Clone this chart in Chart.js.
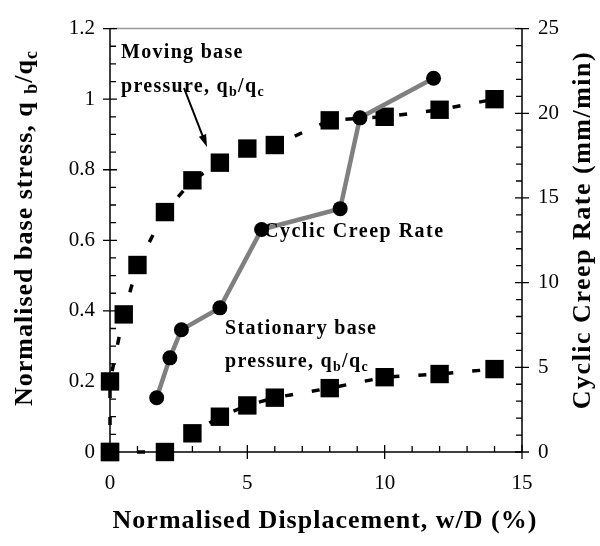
<!DOCTYPE html>
<html>
<head>
<meta charset="utf-8">
<script src="https://cdn.jsdelivr.net/npm/chart.js@4/dist/chart.umd.min.js"></script>
<style>
  html, body { margin: 0; padding: 0; background: #fff; }
  canvas { display: block; }
</style>
</head>
<body>
<canvas id="c" width="600" height="546"></canvas>
<script>
// ---- data ----
const movingX = [0, 0, 0.5, 1, 2, 3, 4, 5, 6, 8, 10, 12, 14];
const movingY = [0, 0.2, 0.39, 0.53, 0.68, 0.77, 0.82, 0.86, 0.87, 0.94, 0.95, 0.97, 1.0];
const stationaryX = [0, 2, 3, 4, 5, 6, 8, 10, 12, 14];
const stationaryY = [0, 0, 0.053, 0.10, 0.132, 0.154, 0.181, 0.212, 0.221, 0.235];
const creepX = [1.7, 2.18, 2.6, 4.0, 5.52, 8.38, 9.1, 11.78];
const creepY = [3.2, 5.56, 7.22, 8.51, 13.14, 14.37, 19.73, 22.07];
const xTicks = [0, 5, 10, 15];
const yTicks = [0, 0.2, 0.4, 0.6, 0.8, 1, 1.2];
const y1Ticks = [0, 5, 10, 15, 20, 25];

const pts = (xs, ys) => xs.map((x, i) => ({ x: x, y: ys[i] }));
const SERIF = '"Liberation Serif", "Times New Roman", serif';

function drawRich(ctx, x, y, parts, size, spacing) {
  let cx = x;
  ctx.letterSpacing = spacing + 'px';
  for (const p of parts) {
    const s = p.sub ? Math.round(size * 0.68) : size;
    ctx.font = 'bold ' + s + 'px ' + SERIF;
    ctx.fillText(p.t, cx, y + (p.sub ? size * 0.2 : 0));
    cx += ctx.measureText(p.t).width;
  }
  return cx - x;
}
function richWidth(ctx, parts, size, spacing) {
  let w = 0;
  ctx.letterSpacing = spacing + 'px';
  for (const p of parts) {
    const s = p.sub ? Math.round(size * 0.68) : size;
    ctx.font = 'bold ' + s + 'px ' + SERIF;
    w += ctx.measureText(p.t).width;
  }
  return w;
}

const decoPlugin = {
  id: 'deco',
  beforeDatasetsDraw(chart) {
    const ctx = chart.ctx;
    const xs = chart.scales.x, ys = chart.scales.y, y1 = chart.scales.y1;
    const L = xs.left, R = xs.right, T = ys.top, B = ys.bottom;
    ctx.save();
    ctx.strokeStyle = '#9a9a9a';
    ctx.lineWidth = 1.5;
    ctx.beginPath(); ctx.moveTo(L, T); ctx.lineTo(R, T); ctx.stroke();
    ctx.strokeStyle = '#000';
    ctx.lineWidth = 1.5;
    ctx.beginPath();
    ctx.moveTo(L, T); ctx.lineTo(L, B); ctx.lineTo(R, B); ctx.lineTo(R, T);
    ctx.stroke();
    ctx.lineWidth = 1.3;
    ctx.beginPath();
    for (let i = 0; i <= 15; i++) {
      const px = xs.getPixelForValue(i);
      if (i % 5 === 0) { ctx.moveTo(px, B - 7); ctx.lineTo(px, B + 7); }
      else { ctx.moveTo(px, B); ctx.lineTo(px, B - 6); }
    }
    for (let i = 0; i <= 24; i++) {
      const py = ys.getPixelForValue(i * 0.05);
      if (i % 4 === 0) { ctx.moveTo(L - 7, py); ctx.lineTo(L + 7, py); }
      else { ctx.moveTo(L, py); ctx.lineTo(L + 6, py); }
    }
    for (let i = 0; i <= 25; i++) {
      const py = y1.getPixelForValue(i);
      if (i % 5 === 0) { ctx.moveTo(R - 7, py); ctx.lineTo(R + 7, py); }
      else { ctx.moveTo(R - 6, py); ctx.lineTo(R, py); }
    }
    ctx.stroke();
    ctx.restore();
  },
  afterDraw(chart) {
    const ctx = chart.ctx;
    ctx.save();
    ctx.fillStyle = '#000';
    ctx.textBaseline = 'alphabetic';
    ctx.textAlign = 'left';
    const qbqc = [{ t: 'pressure, q' }, { t: 'b', sub: true }, { t: '/q' }, { t: 'c', sub: true }];
    drawRich(ctx, 121, 58, [{ t: 'Moving base' }], 20, 1.3);
    drawRich(ctx, 121, 92, qbqc, 20, 1.3);
    drawRich(ctx, 264, 237, [{ t: 'Cyclic Creep Rate' }], 20, 1.5);
    drawRich(ctx, 225, 334, [{ t: 'Stationary base' }], 20, 1.3);
    drawRich(ctx, 225, 367, qbqc, 20, 1.3);
    // arrow
    ctx.strokeStyle = '#000';
    ctx.lineWidth = 2;
    const ax0 = 184, ay0 = 88, ax1 = 207, ay1 = 147;
    const ang = Math.atan2(ay1 - ay0, ax1 - ax0);
    ctx.beginPath(); ctx.moveTo(ax0, ay0);
    ctx.lineTo(ax1 - 8 * Math.cos(ang), ay1 - 8 * Math.sin(ang)); ctx.stroke();
    ctx.beginPath();
    ctx.moveTo(ax1, ay1);
    ctx.lineTo(ax1 - 13 * Math.cos(ang - 0.3), ay1 - 13 * Math.sin(ang - 0.3));
    ctx.lineTo(ax1 - 13 * Math.cos(ang + 0.3), ay1 - 13 * Math.sin(ang + 0.3));
    ctx.closePath(); ctx.fill();

    const bottomParts = [{ t: 'Normalised Displacement, w/D (%)' }];
    let w = richWidth(ctx, bottomParts, 26, 1);
    drawRich(ctx, 325 - w / 2, 528, bottomParts, 26, 1);

    const leftParts = [{ t: 'Normalised base stress, q ' }, { t: 'b', sub: true }, { t: '/q' }, { t: 'c', sub: true }];
    ctx.save();
    ctx.translate(32, 228);
    ctx.rotate(-Math.PI / 2);
    w = richWidth(ctx, leftParts, 26, 1);
    drawRich(ctx, -w / 2, 0, leftParts, 26, 1);
    ctx.restore();

    const rightParts = [{ t: 'Cyclic Creep Rate (mm/min)' }];
    ctx.save();
    ctx.translate(590, 230);
    ctx.rotate(-Math.PI / 2);
    w = richWidth(ctx, rightParts, 26, 1.5);
    drawRich(ctx, -w / 2, 0, rightParts, 26, 1.5);
    ctx.restore();
    ctx.restore();
  }
};

const tickFont = { family: SERIF, size: 21 };

new Chart(document.getElementById('c'), {
  type: 'scatter',
  data: {
    datasets: [
      {
        label: 'Cyclic Creep Rate',
        data: pts(creepX, creepY),
        yAxisID: 'y1',
        clip: false,
        showLine: true,
        borderColor: '#808080',
        borderWidth: 4.5,
        pointStyle: 'circle',
        pointRadius: 7.5,
        pointBackgroundColor: '#000',
        pointBorderColor: '#000',
        pointBorderWidth: 0
      },
      {
        label: 'Moving base pressure',
        data: pts(movingX, movingY),
        yAxisID: 'y',
        clip: false,
        showLine: true,
        borderColor: '#000',
        borderWidth: 3.5,
        borderDash: [8, 19],
        pointStyle: 'rect',
        pointRadius: 13,
        pointBackgroundColor: '#000',
        pointBorderColor: '#000',
        pointBorderWidth: 0
      },
      {
        label: 'Stationary base pressure',
        data: pts(stationaryX, stationaryY),
        yAxisID: 'y',
        clip: false,
        showLine: true,
        borderColor: '#000',
        borderWidth: 3.5,
        borderDash: [8, 19],
        pointStyle: 'rect',
        pointRadius: 13,
        pointBackgroundColor: '#000',
        pointBorderColor: '#000',
        pointBorderWidth: 0
      }
    ]
  },
  options: {
    responsive: false,
    devicePixelRatio: 1,
    animation: false,
    layout: { padding: { top: 20, left: 0, right: 0, bottom: 0 } },
    plugins: { legend: { display: false }, tooltip: { enabled: false } },
    scales: {
      x: {
        type: 'linear', min: 0, max: 15,
        afterBuildTicks: s => { s.ticks = xTicks.map(v => ({ value: v })); },
        ticks: { font: tickFont, color: '#000', padding: 19, maxRotation: 0, callback: v => String(v) },
        grid: { display: false, drawTicks: false },
        border: { display: false },
        afterFit: s => { s.height = 94; }
      },
      y: {
        position: 'left', min: 0, max: 1.2,
        afterBuildTicks: s => { s.ticks = yTicks.map(v => ({ value: v })); },
        ticks: { font: tickFont, color: '#000', padding: 15, callback: v => String(+Number(v).toFixed(1)) },
        grid: { display: false, drawTicks: false },
        border: { display: false },
        afterFit: s => { s.width = 110; }
      },
      y1: {
        position: 'right', min: 0, max: 25,
        afterBuildTicks: s => { s.ticks = y1Ticks.map(v => ({ value: v })); },
        ticks: { font: tickFont, color: '#000', padding: 16, callback: v => String(v) },
        grid: { display: false, drawTicks: false },
        border: { display: false },
        afterFit: s => { s.width = 78; }
      }
    }
  },
  plugins: [decoPlugin]
});
</script>
</body>
</html>
